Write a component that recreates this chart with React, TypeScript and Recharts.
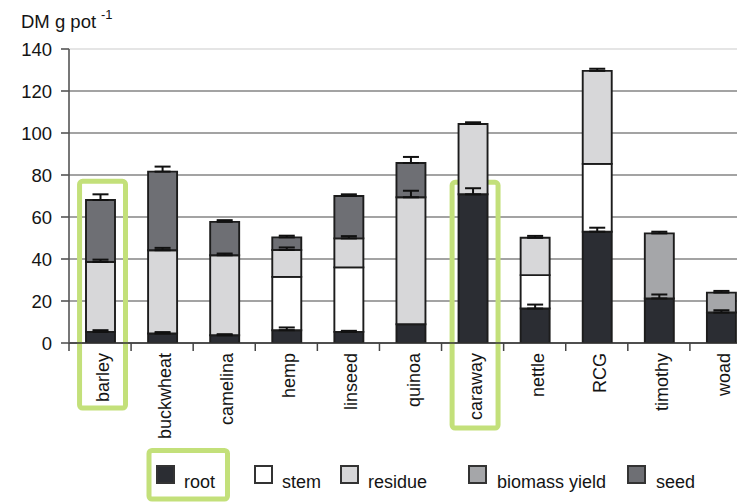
import React from 'react';
import { BarChart, Bar, XAxis, YAxis, CartesianGrid, ErrorBar, ReferenceArea } from 'recharts';

// ---- data ----
const categories = ['barley', 'buckwheat', 'camelina', 'hemp', 'linseed', 'quinoa', 'caraway', 'nettle', 'RCG', 'timothy', 'woad'];
const root = [5.3, 4.5, 3.7, 6.1, 5.3, 8.9, 70.8, 16.4, 53.0, 21.2, 14.5];
const stem = [0, 0, 0, 25.4, 30.7, 0, 0, 15.9, 32.3, 0, 0];
const residue = [33.3, 39.7, 38.1, 12.8, 13.8, 60.5, 33.5, 17.8, 44.3, 0, 0];
const biomassYield = [0, 0, 0, 0, 0, 0, 0, 0, 0, 31.0, 9.5];
const seed = [29.5, 37.4, 15.9, 6.0, 20.2, 16.3, 0, 0, 0, 0, 0];

const rootErr = [0.8, 0.7, 0.5, 1.3, 0.5, 0, 2.9, 1.9, 1.9, 1.9, 1.1];
const stemErr = [0, 0, 0, 0, 0, 0, 0, 0, 0, 0, 0];
const residueErr = [1.1, 1.1, 0.8, 1.2, 1.1, 3.1, 0.8, 0.9, 1.0, 0, 0];
const biomassErr = [0, 0, 0, 0, 0, 0, 0, 0, 0, 0.8, 0.8];
const seedErr = [2.7, 2.4, 0.8, 0.8, 0.8, 2.9, 0, 0, 0, 0, 0];

const yTicks = [0, 20, 40, 60, 80, 100, 120, 140];

const highlightCats = ['barley', 'caraway'];
const highlightTop = [77, 76.5];
const highlightBottom = [-31, -40.5];

// ---- styles ----
const FONT = '"Liberation Sans", Arial, Helvetica, sans-serif';
const GREEN = '#c3e07a';
const TEXT = '#141414';

const series = [
  { key: 'root', name: 'root', color: '#2b2d33' },
  { key: 'stem', name: 'stem', color: '#ffffff' },
  { key: 'residue', name: 'residue', color: '#d7d7d9' },
  { key: 'biomass', name: 'biomass yield', color: '#a5a6a9' },
  { key: 'seed', name: 'seed', color: '#6e6f74' },
];

const up = (e: number) => (e > 0 ? [0, e] : undefined);

const data = categories.map((c, i) => ({
  name: c,
  root: root[i],
  stem: stem[i],
  residue: residue[i],
  biomass: biomassYield[i],
  seed: seed[i],
  rootErr: up(rootErr[i]),
  stemErr: up(stemErr[i]),
  residueErr: up(residueErr[i]),
  biomassErr: up(biomassErr[i]),
  seedErr: up(seedErr[i]),
}));

const XTick = (props: any) => {
  const { x, y, payload, width, visibleTicksCount, index } = props;
  const bw = width / visibleTicksCount;
  const bx = x - bw / 2;
  return (
    <g>
      <line x1={bx} x2={bx} y1={y - 10} y2={y - 2} stroke="#444" strokeWidth={1.5} />
      {index === visibleTicksCount - 1 && (
        <line x1={x + bw / 2} x2={x + bw / 2} y1={y - 10} y2={y - 2} stroke="#444" strokeWidth={1.5} />
      )}
      <text
        transform={`translate(${x},${y}) rotate(-90)`}
        x={0}
        y={9}
        textAnchor="end"
        fontSize={18}
        fill={TEXT}
        fontFamily={FONT}
      >
        {payload.value}
      </text>
    </g>
  );
};

const GreenBox = (p: any) => (
  <rect
    x={p.x + p.width * 0.17}
    y={p.y}
    width={p.width * 0.74}
    height={p.height}
    fill="none"
    stroke={GREEN}
    strokeWidth={5}
    rx={3}
  />
);

const gridLine = (p: any) => (
  <line
    key={`g-${p.index}-${p.y1}`}
    x1={p.x1}
    x2={p.x2}
    y1={p.y1}
    y2={p.y2}
    stroke={p.y1 < 60 ? '#dcdcdc' : '#858585'}
    strokeWidth={1.6}
  />
);

const legendSwatchX = [157, 255, 341, 469, 628];
const legendTextX = [184, 282, 368, 497, 656];

export default function App() {
  return (
    <div style={{ position: 'fixed', left: 0, top: 0, width: 737, height: 503, overflow: 'hidden', background: '#fff' }}>
      <BarChart
        width={752}
        height={440}
        data={data}
        margin={{ top: 49, right: 0, bottom: 0, left: 0 }}
        style={{ fontFamily: FONT }}
      >
        <CartesianGrid vertical={false} horizontal={gridLine} />
        <XAxis
          dataKey="name"
          interval={0}
          height={97}
          tickLine={false}
          tickSize={0}
          tickMargin={10}
          axisLine={{ stroke: '#333', strokeWidth: 1.6 }}
          tick={<XTick />}
        />
        <YAxis
          width={69}
          domain={[0, 140]}
          allowDataOverflow
          ticks={yTicks}
          interval={0}
          tickSize={8}
          tickMargin={9}
          axisLine={{ stroke: '#555', strokeWidth: 1.6 }}
          tickLine={{ stroke: '#555', strokeWidth: 1.6 }}
          tick={{ fontSize: 18.5, fill: TEXT, fontFamily: FONT }}
        />
        {series.map((s) => (
          <Bar
            key={s.key}
            dataKey={s.key}
            name={s.name}
            stackId="a"
            barSize={29}
            fill={s.color}
            stroke="#1c1c1c"
            strokeWidth={1.9}
            isAnimationActive={false}
          >
            <ErrorBar dataKey={`${s.key}Err`} width={8} stroke="#111" strokeWidth={2} isAnimationActive={false} />
          </Bar>
        ))}
        {highlightCats.map((c, i) => (
          <ReferenceArea
            key={c}
            x1={c}
            x2={c}
            y1={highlightBottom[i]}
            y2={highlightTop[i]}
            ifOverflow="visible"
            shape={GreenBox}
          />
        ))}
      </BarChart>
      <svg
        width={737}
        height={503}
        style={{ position: 'absolute', left: 0, top: 0, pointerEvents: 'none' }}
        fontFamily={FONT}
      >
        <text x={21} y={28} fontSize={18.5} fill={TEXT}>
          DM g pot
          <tspan x={101} y={19} fontSize={13}>-1</tspan>
        </text>
        {series.map((s, i) => (
          <g key={s.key}>
            <rect x={legendSwatchX[i]} y={466} width={17} height={17} fill={s.color} stroke="#333" strokeWidth={2} />
            <text x={legendTextX[i]} y={487.5} fontSize={18} fill={TEXT}>
              {s.name}
            </text>
          </g>
        ))}
        <rect x={149} y={450.5} width={78.5} height={48.5} fill="none" stroke={GREEN} strokeWidth={5} rx={3} />
      </svg>
    </div>
  );
}
